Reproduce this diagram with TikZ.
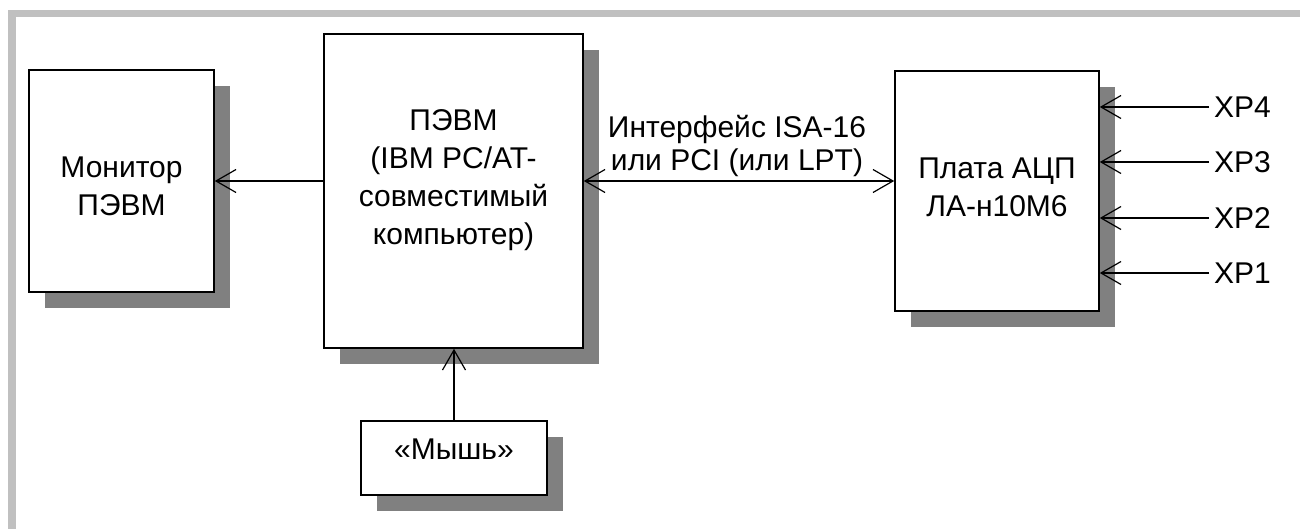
\documentclass[tikz,border=0pt]{standalone}
\usepackage{fontspec}
\setmainfont{Liberation Sans}
\usetikzlibrary{arrows.meta,shadows,calc}
\definecolor{framegray}{HTML}{C0C0C0}
\definecolor{shadowgray}{HTML}{808080}
\begin{document}
\begin{tikzpicture}[x=1pt,y=-1pt,
  block/.style={draw=black, fill=white, line width=1.6pt, inner sep=0pt,
    drop shadow={shadow xshift=16pt, shadow yshift=-16pt, fill=shadowgray, opacity=1}},
  txt/.style={inner sep=0pt, align=center, font=\fontsize{30pt}{38pt}\selectfont},
  lbl/.style={inner sep=0pt, align=center, font=\fontsize{30pt}{33pt}\selectfont},
  conn/.style={line width=1.2pt, -{Straight Barb[length=20pt,width=23pt]}},
  biconn/.style={line width=1.2pt, {Straight Barb[length=20pt,width=23pt]}-{Straight Barb[length=20pt,width=23pt]}}]
  \useasboundingbox (0,0) rectangle (1300,529);
  \fill[white] (0,0) rectangle (1300,529);
  % grey frame, top and left sides
  \fill[framegray] (8,10) rectangle (1300,17);
  \fill[framegray] (8,10) rectangle (16,529);

  % blocks
  \node[block, minimum width=185pt, minimum height=222pt] (mon) at (121.5,181) {};
  \node[block, minimum width=259pt, minimum height=314pt] (pc) at (453.5,191) {};
  \node[block, minimum width=204pt, minimum height=240pt] (adc) at (997,191) {};
  \node[block, minimum width=186pt, minimum height=74pt] (mouse) at (454,458) {};

  % block texts
  \node[txt] (montext) at (121.5,186) {Монитор\\ПЭВМ};
  \node[txt] (pctext) at (453.5,180) {ПЭВМ\\(IBM PC/AT-\\совместимый\\компьютер)};
  \node[txt] (adctext) at (997,187) {Плата АЦП\\ЛА-н10М6};
  \node[txt] (mousetext) at (454,449) {«Мышь»};

  % connectors
  \draw[conn] (pc.west |- mon.east) -- (mon.east);
  \draw[biconn] (pc.east |- mon.east) -- (adc.west |- mon.east);
  \node[lbl] (iface) at (737,146) {Интерфейс ISA-16\\или PCI (или LPT)};
  \draw[conn] (mouse.north) -- (mouse.north |- pc.south);

  % input channels
  \foreach \name/\yy in {XP4/107, XP3/162, XP2/218, XP1/273} {
    \node[txt, anchor=west, inner xsep=5pt] (\name) at (1209,\yy) {\name};
    \draw[conn] (\name.west) -- (\name.west -| adc.east);
  }
\end{tikzpicture}
\end{document}
